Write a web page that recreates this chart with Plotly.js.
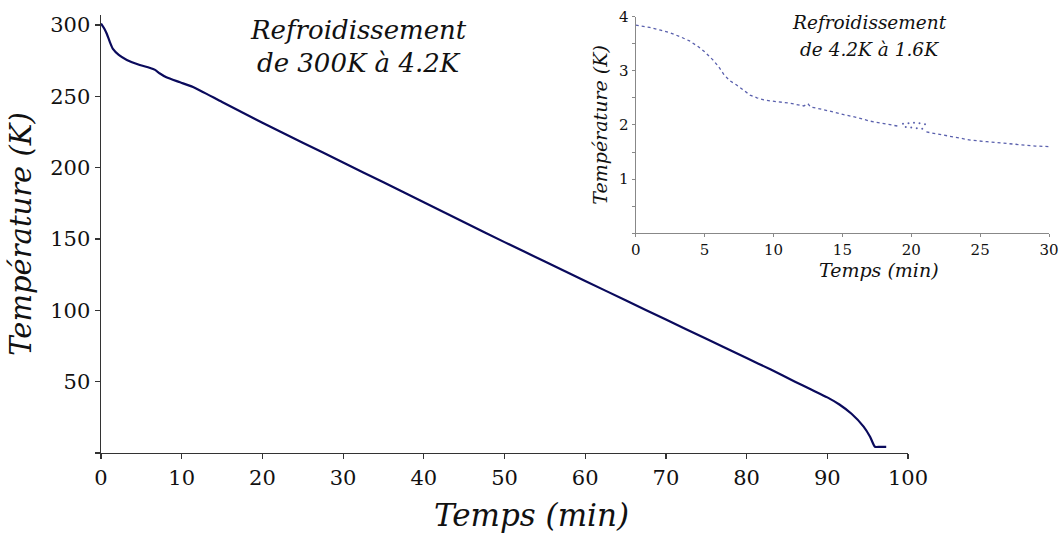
<!DOCTYPE html>
<html>
<head>
<meta charset="utf-8">
<script src="https://cdn.plot.ly/plotly-3.0.1.min.js"></script>
<style>
  html, body { margin: 0; padding: 0; background: #fff; }
  #chart { width: 1061px; height: 533px; }
</style>
</head>
<body>
<div id="chart"></div>
<script>
// Main cooling: 300 K -> 4.2 K
var mainTime = [0, 0.4, 0.7, 1.1, 1.5, 2.2, 3.2, 4.8, 6.0, 6.7, 7.3, 8.1, 9.8, 11.4, 15, 20, 25, 30, 35, 40, 45, 50, 55, 60, 65, 70, 75, 80, 83, 86, 88, 90, 91.5, 93, 94.5, 95.3, 95.9, 96.5, 97.3];
var mainTemp = [301, 297.5, 294, 288, 283, 279, 275.5, 272, 270, 268.5, 266, 263.3, 259.8, 256.5, 246, 231.4, 217.5, 203.6, 189.7, 175.8, 161.8, 147.8, 134.2, 120.6, 107, 93.5, 80, 66.5, 58.5, 50, 44.5, 39, 34, 27.5, 18.5, 11.4, 4.4, 4.3, 4.3];

// Inset cooling: 4.2 K -> 1.6 K
var insetTime = [0, 1, 1.8, 2.5, 3.2, 3.9, 4.5, 5.0, 5.6, 6.0, 6.4, 6.8, 7.3, 7.8, 8.3, 8.8, 9.3, 10.2, 11.2, 12.2, 12.5, 12.7, 13.5, 15.1, 16, 17, 18, 19.2, null, 21.1, 22, 23, 24.3, 25.5, 26.7, 28, 29, 30];
var insetTemp = [3.84, 3.80, 3.75, 3.70, 3.63, 3.55, 3.45, 3.35, 3.20, 3.08, 2.93, 2.82, 2.74, 2.64, 2.55, 2.50, 2.46, 2.43, 2.40, 2.35, 2.39, 2.33, 2.29, 2.19, 2.14, 2.07, 2.02, 1.97, null, 1.87, 1.83, 1.78, 1.72, 1.69, 1.66, 1.63, 1.61, 1.60];
var glitchTime = [19.4, 19.6, 19.8, 20.0, 20.2, 20.4, 20.6, 20.8, 21.0];
var glitchTemp = [2.02, 1.96, 2.03, 1.95, 2.04, 1.94, 2.03, 1.93, 2.01];

// Tick labels
var mainYTicks = [0, 50, 100, 150, 200, 250, 300];
var mainYText = ['', '50', '100', '150', '200', '250', '300'];
var insetYTicks = [0, 0.5, 1, 1.5, 2, 2.5, 3, 3.5, 4];
var insetYText = ['', '', '1', '', '2', '', '3', '', '4'];

var serif = 'DejaVu Serif, Liberation Serif, serif';

var traces = [
  {
    x: mainTime, y: mainTemp, type: 'scatter', mode: 'lines',
    line: {color: '#0a0a5c', width: 2.2, shape: 'spline', smoothing: 0.6},
    xaxis: 'x', yaxis: 'y', hoverinfo: 'skip'
  },
  {
    x: insetTime, y: insetTemp, type: 'scatter', mode: 'lines',
    line: {color: '#5a60ad', width: 1.3, dash: 'dot'},
    connectgaps: false,
    xaxis: 'x2', yaxis: 'y2', hoverinfo: 'skip'
  },
  {
    x: glitchTime, y: glitchTemp, type: 'scatter', mode: 'markers',
    marker: {color: '#5a60ad', size: 2},
    xaxis: 'x2', yaxis: 'y2', hoverinfo: 'skip'
  }
];

function ann(x, y, text, size) {
  return {
    xref: 'paper', yref: 'paper', x: x / 1061, y: 1 - y / 533,
    xanchor: 'center', yanchor: 'middle', showarrow: false,
    text: text, font: {family: serif, size: size, color: '#111'}
  };
}

var layout = {
  width: 1061, height: 533,
  margin: {l: 0, r: 0, t: 0, b: 0},
  paper_bgcolor: '#ffffff', plot_bgcolor: 'rgba(0,0,0,0)',
  showlegend: false,
  font: {family: serif, color: '#111'},
  xaxis: {
    domain: [0.0952, 0.8558], range: [0, 100],
    tickvals: [0, 10, 20, 30, 40, 50, 60, 70, 80, 90, 100],
    ticks: 'outside', ticklen: 5, tickwidth: 1.2, tickcolor: '#333',
    showline: true, linecolor: '#333', linewidth: 1.5,
    showgrid: false, zeroline: false,
    tickfont: {family: serif, size: 21, color: '#111'},
    anchor: 'y'
  },
  yaxis: {
    domain: [0.1501, 0.9719], range: [0, 307],
    tickvals: mainYTicks, ticktext: mainYText,
    ticks: 'outside', ticklen: 5, tickwidth: 1.2, tickcolor: '#333',
    showline: true, linecolor: '#333', linewidth: 1.5,
    showgrid: false, zeroline: false,
    tickfont: {family: serif, size: 21, color: '#111'},
    title: {text: '<i>Température (K)</i>', font: {family: serif, size: 29, color: '#111'}, standoff: 10},
    anchor: 'x'
  },
  xaxis2: {
    domain: [0.5992, 0.9887], range: [0, 30],
    tickvals: [0, 5, 10, 15, 20, 25, 30],
    ticks: 'outside', ticklen: 3, tickwidth: 1, tickcolor: '#888',
    showline: true, linecolor: '#888', linewidth: 1.2,
    showgrid: false, zeroline: false,
    tickfont: {family: serif, size: 15, color: '#111'},
    anchor: 'y2'
  },
  yaxis2: {
    domain: [0.5623, 0.969], range: [0, 4],
    tickvals: insetYTicks, ticktext: insetYText,
    ticks: 'outside', ticklen: 3, tickwidth: 1, tickcolor: '#888',
    showline: true, linecolor: '#888', linewidth: 1.2,
    showgrid: false, zeroline: false,
    tickfont: {family: serif, size: 15, color: '#111'},
    title: {text: '<i>Température (K)</i>', font: {family: serif, size: 19, color: '#111'}, standoff: 6},
    anchor: 'x2'
  },
  annotations: [
    ann(531, 515, '<i>Temps (min)</i>', 31),
    ann(879, 270, '<i>Temps (min)</i>', 19),
    ann(358, 30, '<i>Refroidissement</i>', 26),
    ann(359, 63, '<i>de 300K à 4.2K</i>', 26),
    ann(869, 23, '<i>Refroidissement</i>', 18.5),
    ann(869, 50, '<i>de 4.2K à 1.6K</i>', 18.5)
  ]
};

Plotly.newPlot('chart', traces, layout, {displayModeBar: false, staticPlot: true});
</script>
</body>
</html>
